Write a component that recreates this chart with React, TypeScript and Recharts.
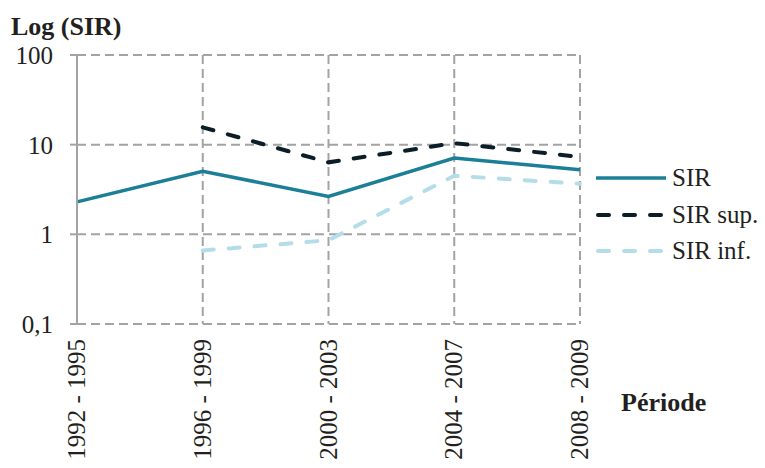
import { LineChart, Line, XAxis, YAxis, CartesianGrid } from "recharts";

const periods = ["1992 - 1995", "1996 - 1999", "2000 - 2003", "2004 - 2007", "2008 - 2009"];
const sir = [2.3, 5.05, 2.65, 7.1, 5.26];
const sirSup = [null, 15.6, 6.35, 10.4, 7.3];
const sirInf = [null, 0.66, 0.86, 4.5, 3.67];
const yTicks = [0.1, 1, 10, 100];

const data = periods.map((p, i) => ({ period: p, sir: sir[i], sup: sirSup[i], inf: sirInf[i] }));

const series = [
  { key: "sir", name: "SIR", color: "#1b7f98", width: 3.5, dash: undefined },
  { key: "sup", name: "SIR sup.", color: "#0b1e27", width: 4, dash: "11 15" },
  { key: "inf", name: "SIR inf.", color: "#b4dde9", width: 4, dash: "11 15" },
];

const FONT = "'Liberation Serif', 'Times New Roman', serif";
const GRID = "#a3a3a3";

function PeriodTick({ x, y, payload }: any) {
  return (
    <g transform={`translate(${x + 8}, ${y}) rotate(-90)`}>
      <text x={0} y={0} textAnchor="end" fontFamily={FONT} fontSize={25} fill="#231f20">
        {payload.value}
      </text>
    </g>
  );
}

export default function App() {
  return (
    <div style={{ position: "absolute", left: 0, top: 0, width: 765, height: 468, background: "#fff", fontFamily: FONT }}>
      <LineChart width={765} height={468} data={data} margin={{ top: 55, right: 185, bottom: 14, left: 17 }}>
        <CartesianGrid stroke={GRID} strokeWidth={2} strokeDasharray="9 5" />
        <XAxis
          dataKey="period"
          scale="point"
          padding={{ left: 0, right: 0 }}
          height={130}
          axisLine={false}
          tickLine={false}
          tickSize={0}
          tickMargin={15}
          interval={0}
          tick={<PeriodTick />}
        />
        <YAxis
          scale="log"
          domain={[0.1, 100]}
          ticks={yTicks}
          allowDataOverflow
          width={60}
          axisLine={{ stroke: GRID, strokeWidth: 2 }}
          tickLine={{ stroke: GRID, strokeWidth: 2 }}
          tickSize={7}
          tickMargin={17}
          tick={{ fontFamily: FONT, fontSize: 25, fill: "#231f20" }}
          tickFormatter={(v: number) => String(v).replace(".", ",")}
        />
        {series.map((s) => (
          <Line
            key={s.key}
            dataKey={s.key}
            name={s.name}
            type="linear"
            stroke={s.color}
            strokeWidth={s.width}
            strokeDasharray={s.dash}
            strokeLinecap={s.dash ? "round" : "butt"}
            dot={false}
            activeDot={false}
            connectNulls={false}
            isAnimationActive={false}
          />
        ))}
      </LineChart>

      <div style={{ position: "absolute", left: 11, top: 12, fontSize: 26, fontWeight: "bold", color: "#231f20", lineHeight: "30px" }}>
        Log (SIR)
      </div>
      <div style={{ position: "absolute", left: 621, top: 388, fontSize: 26, fontWeight: "bold", color: "#231f20", lineHeight: "30px" }}>
        Période
      </div>

      <div style={{ position: "absolute", left: 594, top: 160 }}>
        {series.map((s) => (
          <div key={s.key} style={{ display: "flex", alignItems: "center", height: 36.5 }}>
            <svg width={74} height={10} style={{ display: "block" }}>
              <line
                x1={s.dash ? 4 : 2}
                y1={5}
                x2={72}
                y2={5}
                stroke={s.color}
                strokeWidth={s.width}
                strokeDasharray={s.dash}
                strokeLinecap={s.dash ? "round" : "butt"}
              />
            </svg>
            <span style={{ fontSize: 25, color: "#231f20", marginLeft: 4, whiteSpace: "nowrap" }}>{s.name}</span>
          </div>
        ))}
      </div>
    </div>
  );
}
